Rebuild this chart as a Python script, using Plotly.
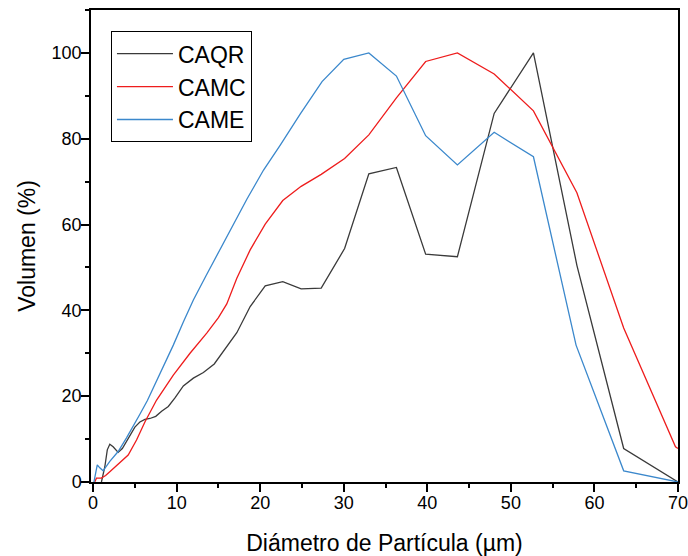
import plotly.graph_objects as go

# ---- data ----
caqr_x = [1.0, 1.4, 1.7, 2.0, 2.4, 3.0, 3.5, 4.0, 4.5, 5.0, 5.6, 6.2, 6.8, 7.5, 8.2, 9.0, 9.8,
          10.8, 12.0, 13.2, 14.5, 15.8, 17.2, 18.8, 20.6, 22.7, 24.9, 27.3, 30.1, 33.0, 36.3,
          39.8, 43.6, 48.0, 52.7, 57.9, 63.5, 70.0]
caqr_y = [0.0, 3.5, 7.5, 8.8, 8.2, 6.9, 7.8, 9.5, 11.2, 12.8, 14.0, 14.6, 14.8, 15.3, 16.5, 17.6, 19.6,
          22.4, 24.2, 25.5, 27.5, 30.9, 34.8, 40.9, 45.7, 46.7, 45.0, 45.2, 54.4, 71.8, 73.3,
          53.1, 52.5, 85.9, 100.0, 50.5, 7.8, 0.0]

camc_x = [0.2, 0.4, 1.0, 1.5, 2.0, 3.0, 4.2, 5.2, 6.2, 7.6, 9.6, 11.6, 13.6, 15.0, 16.0, 17.2,
          18.8, 20.6, 22.7, 24.9, 27.3, 30.1, 33.0, 36.3, 39.8, 43.6, 48.0, 52.7, 57.9, 63.5,
          69.7, 70.0]
camc_y = [0.0, 0.9, 0.9, 1.5, 2.4, 4.2, 6.3, 9.8, 14.0, 19.1, 24.9, 30.0, 34.7, 38.3, 41.5, 47.5,
          54.1, 60.1, 65.6, 68.9, 71.7, 75.4, 80.9, 89.5, 98.0, 100.0, 95.1, 86.5, 67.4, 35.9,
          8.2, 7.8]

came_x = [0.1, 0.3, 0.5, 0.8, 1.2, 2.0, 3.0, 4.0, 5.0, 5.6, 6.5, 7.6, 8.6, 9.6, 10.8, 12.0,
          13.5, 15.0, 16.4, 18.4, 20.4, 22.4, 24.8, 27.4, 30.0, 33.0, 36.3, 39.8, 43.6, 48.0,
          52.7, 57.8, 63.5, 70.0]
came_y = [0.0, 2.5, 4.0, 3.3, 2.6, 4.8, 7.1, 10.3, 13.6, 15.8, 19.0, 23.5, 27.8, 31.9, 37.3, 42.4,
          48.0, 53.5, 58.7, 65.9, 72.7, 78.5, 85.8, 93.3, 98.5, 100.0, 94.6, 80.7, 73.9, 81.5,
          75.8, 31.9, 2.6, 0.0]

series_names = ["CAQR", "CAMC", "CAME"]
series_colors = ["#3a3a3a", "#ee1c1c", "#3b88cc"]

x_ticks = [0, 10, 20, 30, 40, 50, 60, 70]
y_ticks = [0, 20, 40, 60, 80, 100]

FONT = "Arial, Liberation Sans, sans-serif"

fig = go.Figure()
for name, xs, ys, col in zip(series_names, [caqr_x, camc_x, came_x], [caqr_y, camc_y, came_y], series_colors):
    fig.add_trace(go.Scatter(x=xs, y=ys, mode="lines", name=name,
                             line=dict(color=col, width=1.3)))

axis_common = dict(
    showgrid=False, zeroline=False, showline=True, linecolor="black", linewidth=1.5,
    mirror=True, ticks="outside", ticklen=8, tickwidth=1.5, tickcolor="black",
    tickfont=dict(family=FONT, size=18, color="black"), automargin=False,
    ticklabeloverflow="allow",
)

fig.update_xaxes(range=[-0.25, 70], tickvals=x_ticks, ticklabelstandoff=-4,
                 minor=dict(dtick=5, tick0=0, ticks="outside", ticklen=4, tickwidth=1.5, tickcolor="black"),
                 title=dict(text="Diámetro de Partícula (µm)", font=dict(family=FONT, size=23, color="black"),
                            standoff=30),
                 **axis_common)
fig.update_yaxes(range=[0, 110], tickvals=y_ticks, ticklabelstandoff=-4,
                 minor=dict(dtick=10, tick0=0, ticks="outside", ticklen=4, tickwidth=1.5, tickcolor="black"),
                 title=dict(text="Volumen (%)", font=dict(family=FONT, size=23, color="black"), standoff=10),
                 **axis_common)

fig.update_layout(
    width=688, height=556,
    margin=dict(l=91, r=10, t=10, b=74),
    paper_bgcolor="white", plot_bgcolor="white",
    font=dict(family=FONT, color="black"),
    legend=dict(x=0.034, y=0.955, xanchor="left", yanchor="top",
                bgcolor="white", bordercolor="black", borderwidth=1,
                font=dict(family=FONT, size=23, color="black"),
                itemwidth=56, tracegroupgap=0),
    showlegend=True,
)

fig.write_html("out.html")
